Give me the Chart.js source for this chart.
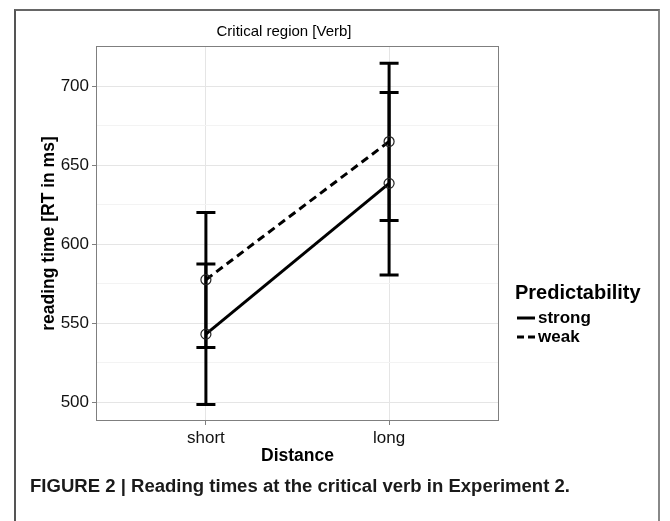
<!DOCTYPE html>
<html lang="en">
<head>
<meta charset="UTF-8">
<title>Critical region [Verb]</title>
<script src="https://cdn.jsdelivr.net/npm/chart.js"></script>
<style>
  body { margin: 0; background: #fff; font-family: "Liberation Sans", Arial, sans-serif; }
  #wrap { position: relative; width: 670px; height: 521px; overflow: hidden; }
  #frame { position: absolute; left: 14px; top: 9px; width: 642px; height: 540px;
           border-left: 2px solid #555; border-top: 2px solid #666; border-right: 2px solid #888; }
  canvas { position: absolute; left: 0; top: 0; }
  #caption { position: absolute; left: 30px; top: 477px; font-weight: bold; font-size: 18px;
             line-height: 18px; white-space: nowrap; transform-origin: 0 0; color: #1a1a1a; }
</style>
</head>
<body>
<div id="wrap">
  <div id="frame"></div>
  <canvas id="chart" width="670" height="521"></canvas>
  <div id="caption">FIGURE 2 | Reading times at the critical verb in Experiment 2.</div>
</div>
<script>
// values
const categories = ['short', 'long'];
const seriesNames = ['strong', 'weak'];
const strongMean = [543, 638.5];
const strongLow = [498.5, 580.5];
const strongHigh = [587.5, 696];
const weakMean = [577.5, 665];
const weakLow = [534.5, 615];
const weakHigh = [620, 714.5];
const yTicks = [500, 550, 600, 650, 700];
const yMinor = [525, 575, 625, 675, 725];
const plotTitle = 'Critical region [Verb]';
const legendTitle = 'Predictability';

const FONT = '"Liberation Sans", Arial, sans-serif';

function points(vals) {
  return vals.map((v, i) => ({ x: i, y: v }));
}

// error bars drawn from the low/high arrays through the chart scales
const errorBars = {
  id: 'errorBars',
  beforeDatasetsDraw(chart) {
    const { ctx, scales: { x, y } } = chart;
    ctx.save();
    ctx.strokeStyle = '#000';
    ctx.lineWidth = 3;
    chart.data.datasets.forEach(ds => {
      ds.data.forEach((p, i) => {
        const px = x.getPixelForValue(p.x);
        const top = y.getPixelForValue(ds.high[i]);
        const bot = y.getPixelForValue(ds.low[i]);
        const half = 9.5;
        ctx.beginPath();
        ctx.moveTo(px, top); ctx.lineTo(px, bot);
        ctx.moveTo(px - half, top); ctx.lineTo(px + half, top);
        ctx.moveTo(px - half, bot); ctx.lineTo(px + half, bot);
        ctx.stroke();
      });
    });
    ctx.restore();
  }
};

// grey border round the panel
const panelBorder = {
  id: 'panelBorder',
  afterDatasetsDraw(chart) {
    const { ctx, chartArea: a } = chart;
    ctx.save();
    ctx.strokeStyle = '#7f7f7f';
    ctx.lineWidth = 1;
    ctx.strokeRect(Math.round(a.left) + 0.5, Math.round(a.top) + 0.5,
                   Math.round(a.right - a.left) - 1, Math.round(a.bottom - a.top) - 1);
    ctx.restore();
  }
};

// plot title and ggplot style legend
const sideLegend = {
  id: 'sideLegend',
  afterDraw(chart) {
    const { ctx, chartArea } = chart;
    ctx.save();
    ctx.fillStyle = '#000';
    ctx.textBaseline = 'middle';
    ctx.textAlign = 'center';
    ctx.font = '15px ' + FONT;
    ctx.fillText(plotTitle, 284, 32);

    const x0 = chartArea.right + 16;
    ctx.textAlign = 'left';
    ctx.font = 'bold 20px ' + FONT;
    ctx.fillText(legendTitle, x0, 293);
    ctx.font = 'bold 17px ' + FONT;
    chart.data.datasets.forEach((ds, i) => {
      const cy = 318 + i * 19;
      ctx.strokeStyle = '#000';
      ctx.lineWidth = 3;
      ctx.setLineDash(ds.borderDash.length ? [7, 4] : []);
      ctx.beginPath();
      ctx.moveTo(x0 + 2, cy);
      ctx.lineTo(x0 + 20, cy);
      ctx.stroke();
      ctx.setLineDash([]);
      ctx.fillText(ds.label, x0 + 23, cy);
    });
    ctx.restore();
  }
};

const lineStyle = {
  borderColor: '#000',
  borderWidth: 3,
  tension: 0,
  fill: false,
  pointRadius: 5,
  pointBorderWidth: 1.2,
  pointBorderColor: '#222',
  pointBackgroundColor: 'rgba(0,0,0,0)'
};

new Chart(document.getElementById('chart'), {
  type: 'line',
  data: {
    datasets: [
      Object.assign({ label: seriesNames[0], data: points(strongMean), low: strongLow, high: strongHigh, borderDash: [] }, lineStyle),
      Object.assign({ label: seriesNames[1], data: points(weakMean), low: weakLow, high: weakHigh, borderDash: [8, 5] }, lineStyle)
    ]
  },
  options: {
    responsive: false,
    devicePixelRatio: 1,
    animation: false,
    events: [],
    layout: { padding: { left: 0, right: 171, top: 46, bottom: 0 } },
    plugins: {
      legend: { display: false },
      tooltip: { enabled: false },
      title: { display: false }
    },
    scales: {
      x: {
        type: 'linear',
        min: -0.6,
        max: 1.6,
        afterBuildTicks: s => { s.ticks = categories.map((c, i) => ({ value: i })); },
        afterFit: s => { s.height = 100; },
        ticks: {
          callback: v => categories[v],
          color: '#111',
          font: { family: FONT, size: 17 },
          padding: 3,
          autoSkip: false,
          maxRotation: 0
        },
        grid: { color: '#e5e5e5', lineWidth: 1, tickLength: 4, tickColor: '#7f7f7f' },
        border: { display: false },
        title: {
          display: true,
          text: 'Distance',
          color: '#000',
          font: { family: FONT, size: 17.5, weight: 'bold' },
          padding: { top: 0, bottom: 54 }
        }
      },
      y: {
        min: 488,
        max: 725.5,
        afterBuildTicks: s => {
          s.ticks = yTicks.concat(yMinor).sort((a, b) => a - b).map(v => ({ value: v }));
        },
        afterFit: s => { s.width = 96; },
        ticks: {
          callback: v => (yTicks.includes(v) ? String(v) : ''),
          color: '#111',
          font: { family: FONT, size: 17 },
          padding: 3,
          autoSkip: false
        },
        grid: {
          color: c => (yTicks.includes(c.tick.value) ? '#e5e5e5' : '#f3f3f3'),
          lineWidth: 1,
          tickLength: 4,
          tickColor: c => (yTicks.includes(c.tick.value) ? '#7f7f7f' : 'rgba(0,0,0,0)')
        },
        border: { display: false },
        title: {
          display: true,
          text: 'reading time [RT in ms]',
          color: '#000',
          font: { family: FONT, size: 17.5, weight: 'bold' },
          padding: { top: 39, bottom: 0 }
        }
      }
    }
  },
  plugins: [errorBars, panelBorder, sideLegend]
});

// the caption in the figure is set in a condensed face
const cap = document.getElementById('caption');
const capWidth = cap.getBoundingClientRect().width;
cap.style.transform = 'scaleX(' + (540 / capWidth) + ')';
</script>
</body>
</html>
